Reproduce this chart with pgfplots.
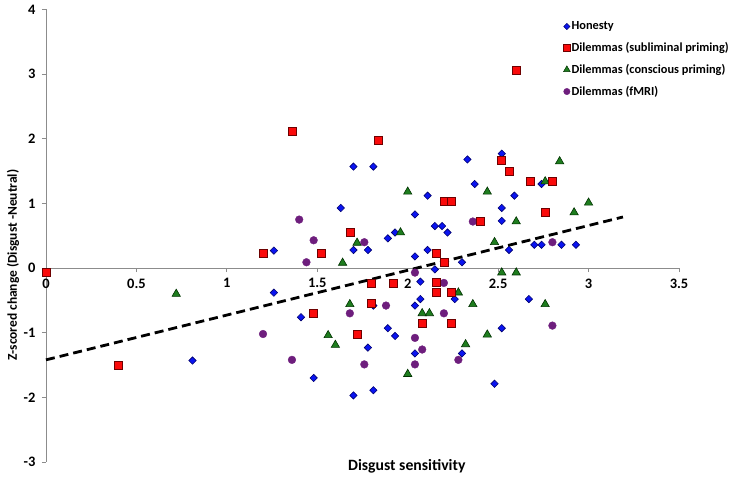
\documentclass[border=0pt]{standalone}
\usepackage{fontspec}
\setmainfont{Carlito}
\usepackage{pgfplots}
\pgfplotsset{compat=1.18}
\definecolor{axisgray}{RGB}{140,140,140}
\definecolor{hblue}{RGB}{10,20,240}
\definecolor{hblueedge}{RGB}{0,0,110}
\definecolor{sred}{RGB}{250,10,10}
\definecolor{srededge}{RGB}{110,0,0}
\definecolor{cgreen}{RGB}{30,125,30}
\definecolor{cgreenedge}{RGB}{0,50,0}
\definecolor{fpurple}{RGB}{110,30,125}
\begin{document}
\begin{tikzpicture}
\path[use as bounding box] (0,0) rectangle (737bp,478bp);
\begin{axis}[
  scale only axis, width=633bp, height=452.5bp,
  at={(46bp,16bp)}, anchor=south west,
  xmin=0, xmax=3.5, ymin=-3, ymax=4,
  axis x line=middle, axis y line=left,
  hide obscured x ticks=false, hide obscured y ticks=false,
  axis line style={-, draw=axisgray, line width=0.8bp},
  xtick={0,0.5,1,1.5,2,2.5,3,3.5},
  xticklabels={0,0.5,1,1.5,2,2.5,3,3.5},
  ytick={-3,-2,-1,0,1,2,3,4},
  yticklabels={-3,-2,-1,0,1,2,3,4},
  tick align=outside, major tick length=4bp,
  tick style={draw=axisgray, line width=0.8bp},
  xticklabel style={font=\fontsize{14.5}{16}\selectfont\bfseries, yshift=-3bp},
  yticklabel style={font=\fontsize{14.5}{16}\selectfont\bfseries, xshift=-3bp},
  xlabel={Disgust sensitivity},
  ylabel={Z-scored change (Disgust -Neutral)},
  every axis x label/.style={at={(axis description cs:0.570,-0.009)}, anchor=center, font=\fontsize{15.8}{18}\selectfont\bfseries},
  every axis y label/.style={at={(axis description cs:-0.052,0.435)}, anchor=center, rotate=90, font=\fontsize{13.5}{16}\selectfont\bfseries},
  clip=false,
  legend style={at={(rel axis cs:0.817,0.976)}, anchor=north west, draw=none, fill=none,
     font=\fontsize{12.4}{14}\selectfont\bfseries, row sep=8.8bp, inner sep=0pt,
     nodes={inner sep=1.2bp}},
  legend cell align=left,
  legend image code/.code={\draw[#1] plot coordinates {(0.1cm,0cm)};},
]
% trend line
\addplot[forget plot, black, line width=2.8bp, dash pattern=on 9bp off 5bp] coordinates {(0,-1.42) (3.19,0.79)};
% Honesty
\addplot[forget plot, only marks, mark=square*, mark size=2.6bp, mark options={rotate=45, fill=hblue, draw=hblueedge, line width=0.6bp}] coordinates {
(0.81,-1.43) (1.70,1.57) (1.81,1.57) (1.63,0.93) (2.04,0.83) (1.89,0.46)
(1.93,0.55) (1.26,0.27) (1.70,0.28) (1.78,0.28) (2.04,0.18) (1.26,-0.38)
(1.81,-0.58) (2.04,-0.58) (1.41,-0.76) (1.89,-0.93) (1.93,-1.05) (1.78,-1.23)
(2.04,-1.32) (1.48,-1.70) (1.81,-1.89) (1.70,-1.97) (2.52,1.77) (2.33,1.68)
(2.74,1.30) (2.37,1.30) (2.59,1.12) (2.11,1.12) (2.52,0.93) (2.52,0.73)
(2.15,0.65) (2.19,0.65) (2.22,0.55) (2.70,0.36) (2.74,0.36) (2.85,0.36)
(2.93,0.36) (2.56,0.28) (2.11,0.28) (2.30,0.09) (2.15,-0.02) (2.07,-0.21)
(2.26,-0.48) (2.07,-0.48) (2.67,-0.48) (2.52,-0.93) (2.30,-1.32) (2.48,-1.79)
};
% conscious priming
\addplot[forget plot, only marks, mark=triangle*, mark size=4.8bp, mark options={fill=cgreen, draw=cgreenedge, line width=0.6bp}] coordinates {
(0.72,-0.40) (2.00,1.18) (1.72,0.39) (1.96,0.55) (1.64,0.08) (1.68,-0.56)
(1.56,-1.04) (1.60,-1.19) (2.00,-1.64) (2.84,1.65) (2.76,1.34) (2.44,1.18)
(3.00,1.01) (2.92,0.86) (2.60,0.72) (2.48,0.40) (2.52,-0.07) (2.60,-0.07)
(2.28,-0.38) (2.36,-0.56) (2.76,-0.56) (2.08,-0.70) (2.12,-0.70) (2.44,-1.03)
(2.32,-1.18)
};
% fMRI
\addplot[forget plot, only marks, mark=*, mark size=3.9bp, mark options={fill=fpurple, draw=fpurple, line width=0.3bp}] coordinates {
(1.40,0.75) (1.48,0.43) (1.76,0.40) (1.44,0.09) (2.04,-0.07) (1.68,-0.70)
(1.88,-0.58) (1.20,-1.02) (2.04,-1.08) (2.04,-1.49) (1.36,-1.42) (1.76,-1.49)
(2.36,0.72) (2.80,0.40) (2.20,-0.23) (2.20,-0.70) (2.80,-0.89) (2.08,-1.26)
(2.28,-1.42)
};
% subliminal priming
\addplot[forget plot, only marks, mark=square*, mark size=4bp, mark options={fill=sred, draw=srededge, line width=0.6bp}] coordinates {
(0,-0.07) (0.40,-1.50) (1.36,2.12) (1.84,1.97) (1.68,0.55) (1.20,0.23)
(1.52,0.23) (1.80,-0.23) (1.92,-0.23) (1.80,-0.55) (1.48,-0.70) (1.72,-1.02)
(2.52,1.66) (2.56,1.50) (2.68,1.34) (2.80,1.34) (2.20,1.03) (2.24,1.03)
(2.76,0.87) (2.40,0.72) (2.16,0.23) (2.20,0.09) (2.16,-0.22) (2.16,-0.38)
(2.24,-0.38) (2.08,-0.85) (2.24,-0.85) (2.60,3.06)
};
\addlegendimage{only marks, mark=square*, mark size=2.2bp, mark options={rotate=45, fill=hblue, draw=hblueedge, line width=0.5bp}}
\addlegendentry{Honesty}
\addlegendimage{only marks, mark=square*, mark size=3.5bp, mark options={fill=sred, draw=srededge, line width=0.5bp}}
\addlegendentry{Dilemmas (subliminal priming)}
\addlegendimage{only marks, mark=triangle*, mark size=3.8bp, mark options={fill=cgreen, draw=cgreenedge, line width=0.5bp}}
\addlegendentry{Dilemmas (conscious priming)}
\addlegendimage{only marks, mark=*, mark size=3.2bp, mark options={fill=fpurple, draw=fpurple}}
\addlegendentry{Dilemmas (fMRI)}
\end{axis}
\end{tikzpicture}
\end{document}
